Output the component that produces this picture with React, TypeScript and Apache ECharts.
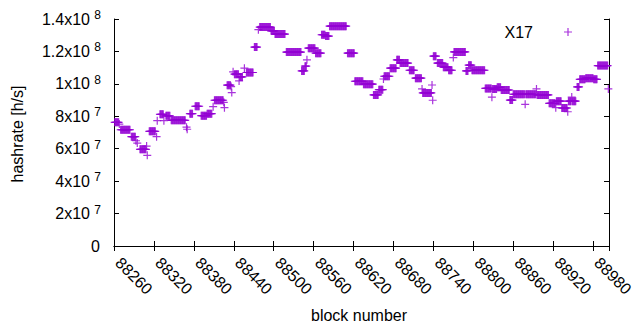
import React, { useEffect, useRef } from "react";
import * as echarts from "echarts";

// Runs of consecutive blocks that share the same estimated hashrate (in 1e6 h/s)
const runStart = [
  88261, 88268, 88270, 88286, 88293, 88295, 88299, 88309, 88310, 88313,
  88324, 88325, 88329, 88335, 88338, 88346, 88369, 88370, 88374, 88382,
  88391, 88400, 88409, 88411, 88425, 88426, 88430, 88436, 88437, 88439,
  88441, 88448, 88449, 88456, 88459, 88471, 88477, 88479, 88496, 88502,
  88519, 88542, 88547, 88550, 88552, 88563, 88572, 88578, 88584, 88611,
  88622, 88635, 88650, 88658, 88665, 88666, 88675, 88685, 88690, 88704,
  88713, 88723, 88724, 88738, 88739, 88740, 88746, 88755, 88763, 88770,
  88771, 88789, 88793, 88798, 88818, 88828, 88829, 88836, 88842, 88855,
  88860, 88878, 88879, 88895, 88896, 88914, 88924, 88925, 88933, 88942,
  88943, 88948, 88949, 88956, 88960, 88969, 88981, 88987, 89003,
];
const runEnd = [
  88267, 88268, 88284, 88292, 88293, 88295, 88308, 88309, 88310, 88322,
  88324, 88325, 88334, 88335, 88344, 88367, 88369, 88370, 88378, 88388,
  88399, 88407, 88409, 88424, 88425, 88426, 88435, 88436, 88437, 88439,
  88447, 88448, 88453, 88456, 88469, 88475, 88477, 88495, 88501, 88517,
  88541, 88546, 88549, 88550, 88562, 88571, 88577, 88583, 88609, 88621,
  88634, 88649, 88657, 88664, 88665, 88674, 88684, 88689, 88702, 88711,
  88722, 88723, 88737, 88738, 88739, 88744, 88754, 88762, 88768, 88770,
  88788, 88792, 88797, 88817, 88827, 88828, 88835, 88841, 88854, 88859,
  88877, 88878, 88894, 88895, 88913, 88923, 88924, 88932, 88941, 88942,
  88947, 88948, 88954, 88959, 88968, 88980, 88986, 89002, 89003,
];
const runValueM = [
  76.3, 75.2, 71.7, 67.4, 64.9, 63.5, 59.6, 61.6, 55.9, 70.7,
  67.4, 77.3, 81.2, 77.3, 80.3, 77.5, 73.3, 72.0, 81.6, 86.2,
  80.4, 81.6, 85.9, 89.9, 88.6, 85.3, 99.2, 98.3, 94.6, 107.4,
  106.0, 101.8, 104.3, 109.7, 107.0, 122.7, 133.4, 135.0, 132.7, 130.7,
  119.6, 108.0, 110.9, 114.8, 122.0, 118.9, 130.3, 129.5, 135.6, 118.9,
  101.6, 99.8, 93.2, 96.4, 103.0, 104.7, 109.7, 114.8, 112.8, 108.4,
  103.5, 96.9, 94.4, 99.3, 89.9, 117.1, 112.8, 110.3, 108.4, 116.2,
  119.7, 108.0, 111.5, 108.4, 97.2, 91.8, 96.8, 97.9, 96.2, 90.0,
  93.6, 87.4, 93.6, 96.9, 93.2, 88.0, 85.3, 89.3, 85.1, 82.8,
  89.3, 91.9, 89.3, 98.1, 102.8, 103.5, 102.8, 111.3, 96.9,
];

const xMin = 88260;
const xMax = 89004;
const xStep = 60;
const yMin = 0;
const yMax = 1.4e8;
const yStep = 2e7;

const seriesName = "X17";
const xTitle = "block number";
const yTitle = "hashrate [h/s]";

const COLOR = "#9400d3";
const FONT = "'Liberation Sans', Arial, sans-serif";
const PLUS = "path://M0,3.4H8V4.6H0Z M3.4,0H4.6V8H3.4Z";

function buildData(): [number, number][] {
  const out: [number, number][] = [];
  for (let i = 0; i < runStart.length; i++) {
    for (let b = runStart[i]; b <= runEnd[i]; b++) {
      out.push([b, runValueM[i] * 1e6]);
    }
  }
  return out;
}

function expOf(v: number): number {
  return Math.floor(Math.log10(v) + 1e-9);
}
function mantissaLabel(v: number): string {
  if (v === 0) return "";
  const e = expOf(v);
  return `${+(v / Math.pow(10, e)).toFixed(2)}x10`;
}
function exponentLabel(v: number): string {
  return v === 0 ? "" : String(expOf(v));
}
function zeroLabel(v: number): string {
  return v === 0 ? "0" : "";
}

export default function App() {
  const ref = useRef<HTMLDivElement>(null);

  useEffect(() => {
    if (!ref.current) return;
    const chart = echarts.init(ref.current, undefined, { renderer: "svg" });
    const axisLine = { show: true, lineStyle: { color: "#000", width: 1 } };
    const tick = { show: true, inside: true, length: 5, lineStyle: { color: "#000", width: 1 } };
    const yBase = {
      type: "value",
      min: yMin,
      max: yMax,
      interval: yStep,
      splitLine: { show: false },
    };
    const hiddenLeft = {
      ...yBase,
      position: "left",
      axisLine: { show: false },
      axisTick: { show: false },
    };
    chart.setOption({
      animation: false,
      backgroundColor: "#fff",
      grid: [
        { left: 114, top: 19, width: 495, height: 227, outerBoundsMode: "none", containLabel: false },
        // same plot box raised by 4px: carries the superscript exponents of the y tick labels
        { left: 114, top: 15, width: 495, height: 227, outerBoundsMode: "none", containLabel: false },
      ],
      legend: {
        show: true,
        data: [seriesName],
        right: 63,
        top: 19,
        align: "right",
        icon: PLUS,
        itemWidth: 8,
        itemHeight: 8,
        selectedMode: false,
        itemStyle: { color: COLOR },
        textStyle: { fontSize: 16, fontFamily: FONT, color: "#000", padding: [0, 26, 0, 0] },
      },
      xAxis: [
        {
          type: "value",
          gridIndex: 0,
          position: "bottom",
          min: xMin,
          max: xMax,
          interval: xStep,
          axisLine,
          axisTick: tick,
          splitLine: { show: false },
          axisLabel: {
            rotate: -45,
            margin: 10,
            padding: [0, 0, 0, 6],
            showMaxLabel: false,
            fontSize: 16,
            fontFamily: FONT,
            color: "#000",
            formatter: (v: number) => String(v),
          },
        },
        {
          type: "value",
          gridIndex: 0,
          position: "top",
          min: xMin,
          max: xMax,
          interval: xStep,
          axisLine,
          axisTick: tick,
          splitLine: { show: false },
          axisLabel: { show: false },
        },
        {
          type: "value",
          gridIndex: 1,
          show: false,
          min: xMin,
          max: xMax,
        },
      ],
      yAxis: [
        {
          ...yBase,
          gridIndex: 0,
          position: "left",
          axisLine,
          axisTick: tick,
          axisLabel: {
            margin: 24,
            fontSize: 16,
            fontFamily: FONT,
            color: "#000",
            formatter: mantissaLabel,
          },
        },
        {
          ...yBase,
          gridIndex: 0,
          position: "right",
          axisLine,
          axisTick: tick,
          axisLabel: { show: false },
        },
        {
          ...hiddenLeft,
          gridIndex: 0,
          axisLabel: {
            margin: 14,
            fontSize: 16,
            fontFamily: FONT,
            color: "#000",
            formatter: zeroLabel,
          },
        },
        {
          ...hiddenLeft,
          gridIndex: 1,
          axisLabel: {
            margin: 13,
            fontSize: 12,
            fontFamily: FONT,
            color: "#000",
            formatter: exponentLabel,
          },
        },
      ],
      graphic: [
        {
          type: "text",
          x: 359,
          y: 315,
          style: { text: xTitle, align: "center", verticalAlign: "middle", fontSize: 16, fontFamily: FONT, fill: "#000" },
        },
        {
          type: "text",
          x: 17,
          y: 134,
          rotation: Math.PI / 2,
          style: { text: yTitle, align: "center", verticalAlign: "middle", fontSize: 16, fontFamily: FONT, fill: "#000" },
        },
      ],
      series: [
        {
          name: seriesName,
          type: "scatter",
          xAxisIndex: 0,
          yAxisIndex: 0,
          symbol: PLUS,
          symbolSize: 8,
          itemStyle: { color: COLOR },
          emphasis: { disabled: true },
          data: buildData(),
        },
      ],
    });
    return () => chart.dispose();
  }, []);

  return (
    <div
      ref={ref}
      style={{ position: "fixed", left: 0, top: 0, width: 640, height: 330, background: "#fff" }}
    />
  );
}
